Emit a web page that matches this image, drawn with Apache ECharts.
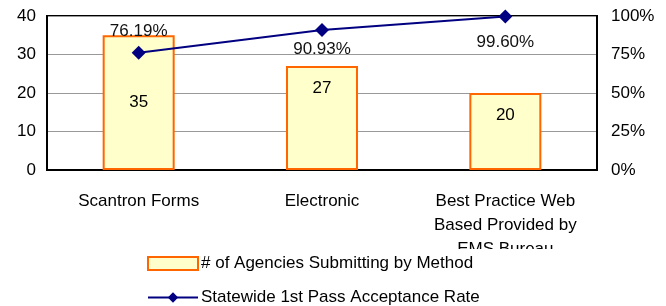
<!DOCTYPE html>
<html>
  <head>
    <meta charset="UTF-8" />
    <title>Agencies Submitting by Method</title>
    <style>
      * {
        margin: 0;
        padding: 0;
        box-sizing: border-box;
      }
      #main {
        width: 666px;
        height: 306px;
        background-color: #fff;
      }
    </style>
  </head>
  <body>
    <div id="main"></div>
    <script src="https://cdn.jsdelivr.net/npm/echarts@6/dist/echarts.min.js"></script>
    <script>
      const myChart = echarts.init(document.getElementById("main"));

      // 数据
      const categories = [
        "Scantron Forms",
        "Electronic",
        "Best Practice Web\nBased Provided by\nEMS Bureau",
      ];
      const agencies = [35, 27, 20];
      const acceptRate = [76.19, 90.93, 99.6];
      const leftTicks = [0, 40, 10];
      const rightTicks = [0, 100, 25];

      const font = "Liberation Sans, Arial, sans-serif";
      const fs = 17;

      const option = {
        animation: false,
        textStyle: { fontFamily: font },
        grid: {
          left: 47,
          right: 69,
          top: 16,
          bottom: 136,
          show: true,
          borderColor: "#000",
          borderWidth: 2,
        },
        legend: {
          orient: "vertical",
          left: 147,
          top: 255,
          height: 60,
          padding: 0,
          itemWidth: 50,
          itemHeight: 13,
          itemGap: 17,
          textStyle: {
            fontFamily: font,
            fontSize: fs,
            lineHeight: 17,
            color: "#000",
            padding: [0, 0, 0, -2],
          },
          data: [
            { name: "# of Agencies Submitting by Method", icon: "rect" },
            { name: "Statewide 1st Pass Acceptance Rate" },
          ],
        },
        xAxis: {
          type: "category",
          data: categories,
          axisTick: { show: false },
          axisLine: { lineStyle: { color: "#000", width: 2 } },
          axisLabel: {
            interval: 0,
            margin: 19,
            fontSize: fs,
            lineHeight: 24,
            color: "#000",
            fontFamily: font,
          },
        },
        yAxis: [
          {
            type: "value",
            min: leftTicks[0],
            max: leftTicks[1],
            interval: leftTicks[2],
            axisLine: { show: true, lineStyle: { color: "#000", width: 2 } },
            axisTick: { show: false },
            axisLabel: { fontSize: fs, color: "#000", margin: 11, fontFamily: font },
            splitLine: { lineStyle: { color: "#999", width: 1 } },
          },
          {
            type: "value",
            min: rightTicks[0],
            max: rightTicks[1],
            interval: rightTicks[2],
            axisLine: { show: true, lineStyle: { color: "#000", width: 2 } },
            axisTick: { show: false },
            axisLabel: {
              fontSize: fs,
              color: "#000",
              margin: 14,
              formatter: "{value}%",
              fontFamily: font,
            },
            splitLine: { show: false },
          },
        ],
        series: [
          {
            name: "# of Agencies Submitting by Method",
            type: "bar",
            barWidth: 72,
            itemStyle: {
              color: "#FFFFCC",
              borderColor: "#FF6600",
              borderWidth: 2,
            },
            label: {
              show: true,
              fontSize: fs,
              color: "#000",
              fontFamily: font,
            },
            data: agencies.map((v, i) => ({
              value: v,
              label:
                i === 0
                  ? { position: "inside" }
                  : { position: "insideTop", distance: 14 },
            })),
          },
          {
            name: "Statewide 1st Pass Acceptance Rate",
            type: "line",
            yAxisIndex: 1,
            z: 5,
            symbol: "diamond",
            symbolSize: 14,
            lineStyle: { color: "#000080", width: 2 },
            itemStyle: { color: "#000080" },
            label: {
              show: true,
              fontSize: fs,
              color: "#111",
              fontFamily: font,
              formatter: (p) => p.value.toFixed(2) + "%",
            },
            data: acceptRate.map((v, i) => ({
              value: v,
              label:
                i === 0
                  ? { position: "top", distance: 6 }
                  : { position: "bottom", distance: i === 1 ? 4 : 10 },
            })),
          },
        ],
        graphic: [
          {
            type: "rect",
            z: 100,
            shape: { x: 380, y: 249, width: 260, height: 6 },
            style: { fill: "#fff" },
          },
        ],
      };

      myChart.setOption(option);
    </script>
  </body>
</html>
